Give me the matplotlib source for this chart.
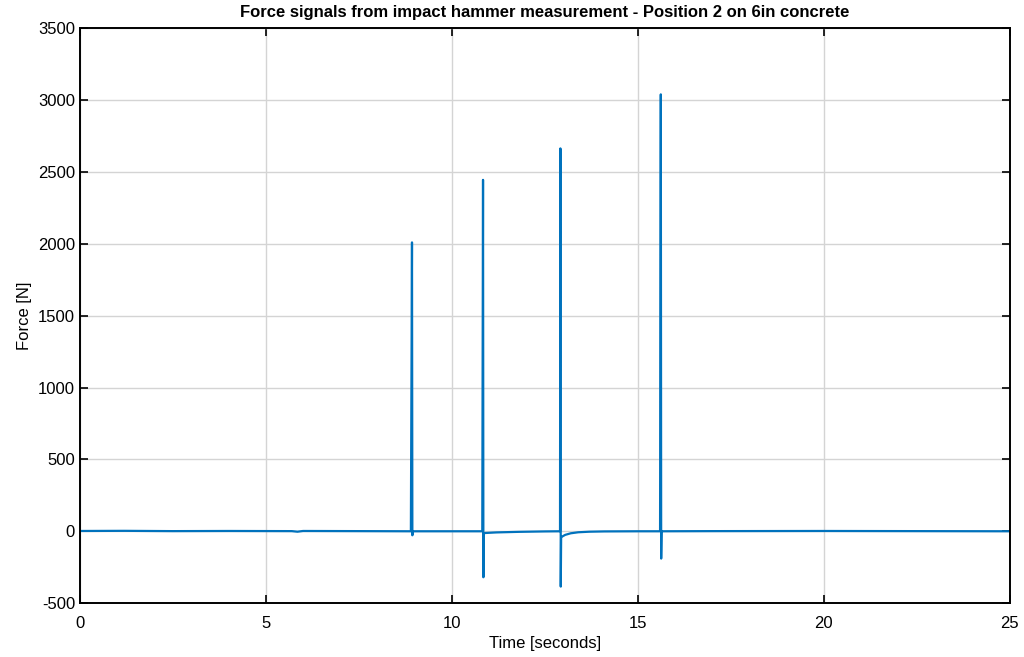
import matplotlib
matplotlib.use("Agg")
import numpy as np
from matplotlib import pyplot as plt

plt.rcParams['font.family'] = ['Liberation Sans', 'DejaVu Sans']
plt.rcParams['axes.unicode_minus'] = False

# key points of the recorded force trace (seconds, newtons)
time_s = [0.0, 1.2, 2.5, 4.0, 5.7, 5.85, 6.0, 7.5, 8.9,
          8.93, 8.94, 8.95, 8.97, 10.0, 10.82,
          10.84, 10.85, 10.86, 10.9, 11.2, 11.8, 12.5, 12.91,
          12.92, 12.93, 12.94, 12.96, 13.05, 13.2, 13.4, 13.7, 14.1, 15.0, 15.6,
          15.62, 15.63, 15.64, 15.66, 17.0, 20.0, 22.5, 25.0]
force_n = [2, 3, 1, 2, 1, -3, 2, 1, 0,
           2010, -28, -5, 0, 0, 0,
           2445, -320, -15, -12, -8, -4, -1, 0,
           2664, -385, -42, -38, -25, -14, -7, -3, -1, 0, 0,
           3040, -190, -5, 0, 1, 2, 1, 0]

fig = plt.figure(figsize=(10.24, 6.57), dpi=100)
ax = fig.add_axes([0.078, 0.082, 0.908, 0.875])
ax.plot(time_s, force_n, color='#0072BD', lw=1.6)

ax.set_xlim(0, 25)
ax.set_ylim(-500, 3500)
ax.set_xticks(np.arange(0, 26, 5))
ax.set_yticks(np.arange(-500, 3501, 500))
ax.grid(True, color='#d4d4d4', lw=1.0)
ax.set_axisbelow(True)
ax.tick_params(direction='in', top=True, right=True, labelsize=12, length=6, width=1.2)
ax.tick_params(axis='x', pad=9)
for s in ax.spines.values():
    s.set_linewidth(1.4)
ax.set_xlabel('Time [seconds]', fontsize=12, labelpad=4)
ax.set_ylabel('Force [N]', fontsize=12)
ax.set_title('Force signals from impact hammer measurement - Position 2 on 6in concrete',
             fontsize=12, fontweight='bold', pad=8)

fig.savefig('out.png', dpi=100)
